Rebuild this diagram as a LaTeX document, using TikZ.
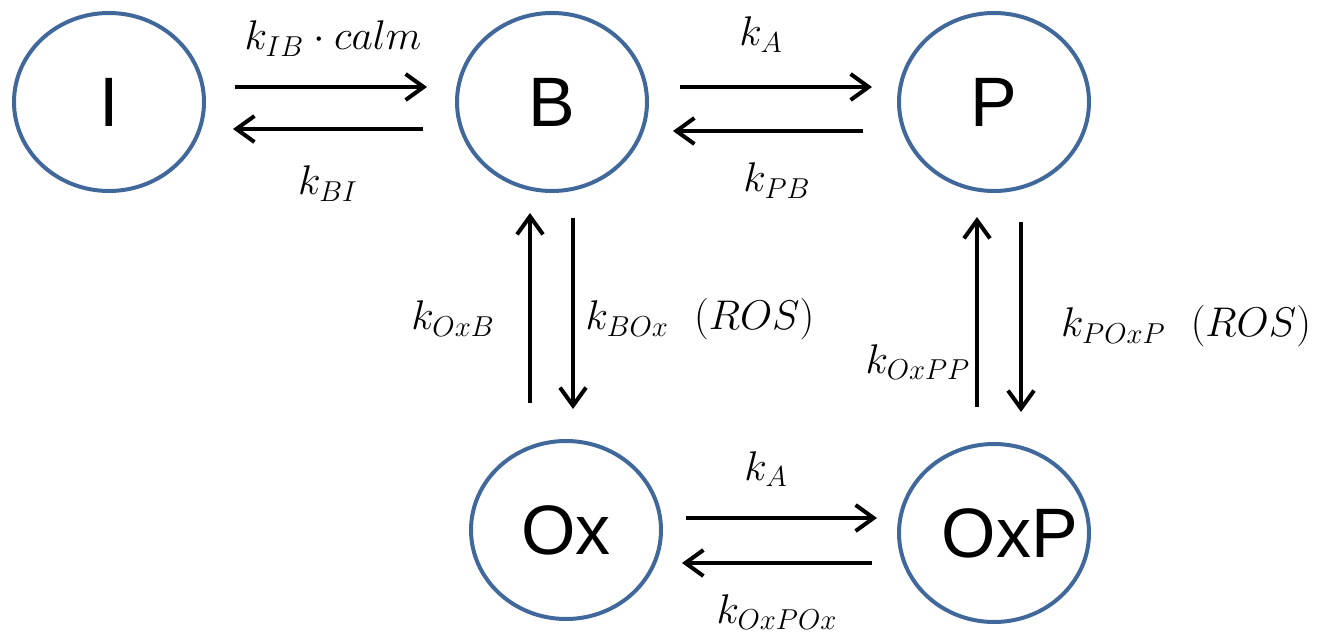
\documentclass[tikz,border=0pt]{standalone}
\usepackage{amsmath,amssymb}
\usepackage{fontspec}
\usetikzlibrary{shapes.geometric,arrows.meta}
\newfontfamily\statefont{Liberation Sans}
\definecolor{ringblue}{RGB}{65,104,154}

\begin{document}
\begin{tikzpicture}[x=0.5pt,y=-0.5pt,
  s/.style={ellipse,draw=ringblue,line width=2pt,minimum width=95pt,minimum height=89pt,inner sep=0pt,font=\statefont\fontsize{35}{40}\selectfont},
  r/.style={line width=2pt,-{Straight Barb[length=9pt,width=13pt]}},
  lab/.style={font=\huge,inner sep=0pt,anchor=base}]
  \useasboundingbox (0,0) rectangle (1332,641);
  % states
  \node[s] (I) at (109,102) {I};
  \node[s] (B) at (552,102) {B};
  \node[s] (P) at (994,102) {P};
  \node[s] (Ox) at (566,530) {Ox};
  \node[s] (OxP) at (994,533) {\makebox[0pt]{\hspace{16pt}OxP}};
  % arrow ends: horizontal pairs
  \coordinate (ib0) at (235,87); \coordinate (ib1) at (427,87);
  \coordinate (bi0) at (423,129); \coordinate (bi1) at (233,129);
  \coordinate (bp0) at (680,87); \coordinate (bp1) at (872,87);
  \coordinate (pb0) at (863,131); \coordinate (pb1) at (673,131);
  \coordinate (op0) at (686,518); \coordinate (op1) at (877,518);
  \coordinate (po0) at (872,563); \coordinate (po1) at (682,563);
  % vertical pairs
  \coordinate (ob0) at (530,403); \coordinate (ob1) at (530,213);
  \coordinate (bo0) at (573,218); \coordinate (bo1) at (573,409);
  \coordinate (pp0) at (977,407); \coordinate (pp1) at (977,217);
  \coordinate (px0) at (1021,222); \coordinate (px1) at (1021,412);
  \foreach \a/\b in {ib0/ib1,bi0/bi1,bp0/bp1,pb0/pb1,op0/op1,po0/po1,ob0/ob1,bo0/bo1,pp0/pp1,px0/px1}
    \draw[r] (\a)--(\b);
  % rates
  \node[lab] (kIB) at (333,50) {$k_{IB}\cdot calm$};
  \node[lab] (kBI) at (328,195) {$k_{BI}$};
  \node[lab] (kA) at (761,46) {$k_A$};
  \node[lab] (kPB) at (777,192) {$k_{PB}$};
  \node[lab] (kOxB) at (453,330) {$k_{OxB}$};
  \node[lab] (kBOx) at (700,330) {$k_{BOx}\ \ (ROS)$};
  \node[lab] (kPOxP) at (1186,337) {$k_{POxP}\ \ (ROS)$};
  \node[lab] (kOxPP) at (918,373) {$k_{OxPP}$};
  \node[lab] (kA2) at (766,480) {$k_A$};
  \node[lab] (kOxPOx) at (777,623) {$k_{OxPOx}$};
\end{tikzpicture}
\end{document}
